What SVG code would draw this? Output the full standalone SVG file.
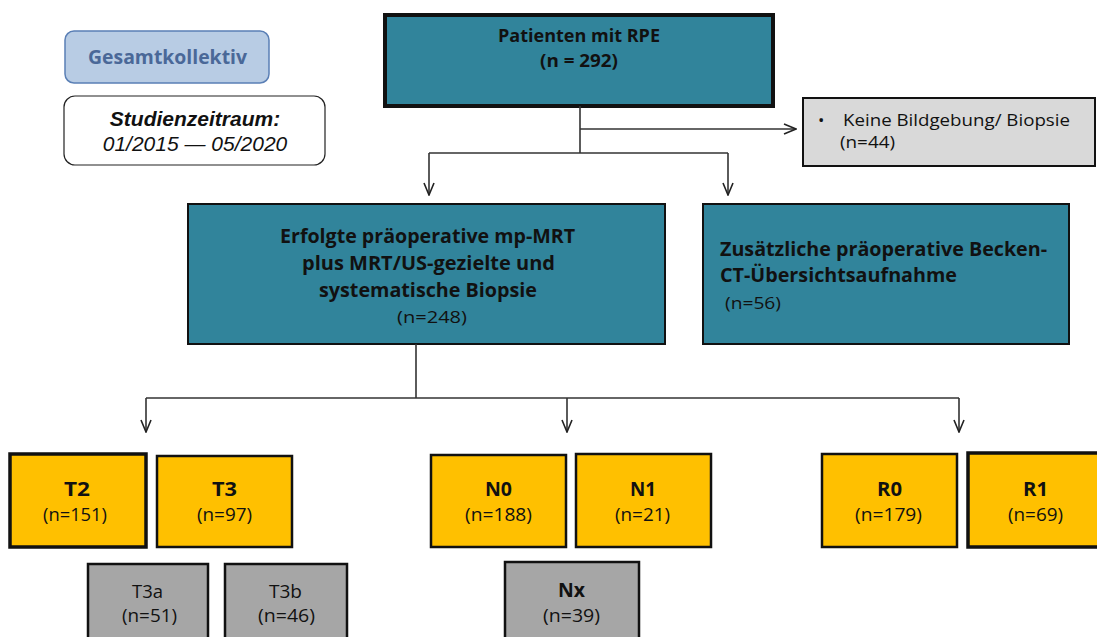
<svg xmlns="http://www.w3.org/2000/svg" width="1097" height="637" viewBox="0 0 1097 637">
<style>
.t{font-family:"Open Sans","Noto Sans",sans-serif;fill:#111;text-anchor:middle}
.l{font-family:"Open Sans","Noto Sans",sans-serif;fill:#111}
.b{font-weight:bold}
.teal{fill:#31849b;stroke:#111;stroke-width:2}
.yel{fill:#ffc000;stroke:#111;stroke-width:2.5}
.gry{fill:#a6a6a6;stroke:#111;stroke-width:2.5}
.conn{fill:none;stroke:#333;stroke-width:1.6}
</style>
<defs>
<marker id="ah" viewBox="0 0 14 12" refX="13" refY="6" markerWidth="14" markerHeight="12" markerUnits="userSpaceOnUse" orient="auto">
<path d="M1,1 L13,6 L1,11" fill="none" stroke="#222" stroke-width="1.6"/>
</marker>
</defs>
<rect width="1097" height="637" fill="#fff"/>
<g id="gesamt">
<rect x="65" y="31" width="204" height="52" rx="9" fill="#b8cce4" stroke="#5a7fb5" stroke-width="1.5"/>
<text x="167.5" y="64" class="t b" font-size="20" textLength="159" lengthAdjust="spacingAndGlyphs" style="fill:#4a6898">Gesamtkollektiv</text>
</g>
<g id="zeitraum">
<rect x="64" y="96" width="261" height="69" rx="11" fill="#fff" stroke="#222" stroke-width="1.2"/>
<text x="195" y="126" font-family="'Liberation Sans',Arial,sans-serif" font-size="21" font-weight="bold" font-style="italic" text-anchor="middle" fill="#111">Studienzeitraum:</text>
<text x="195" y="151" font-family="'Liberation Sans',Arial,sans-serif" font-size="21" font-style="italic" text-anchor="middle" fill="#111">01/2015 — 05/2020</text>
</g>
<g id="patienten">
<rect x="385" y="15" width="388" height="91" fill="#31849b" stroke="#111" stroke-width="4"/>
<text x="579" y="42" class="t b" font-size="18" textLength="162" lengthAdjust="spacingAndGlyphs">Patienten mit RPE</text>
<text x="579" y="67" class="t b" font-size="18" textLength="78" lengthAdjust="spacingAndGlyphs">(n = 292)</text>
</g>
<g id="keine">
<rect x="803" y="98" width="292" height="68" fill="#d9d9d9" stroke="#111" stroke-width="2"/>
<text x="818" y="126" class="l" font-size="17">•</text>
<text x="843" y="126" class="l" font-size="17" textLength="227" lengthAdjust="spacingAndGlyphs">Keine Bildgebung/ Biopsie</text>
<text x="840" y="148" class="l" font-size="17" textLength="55" lengthAdjust="spacingAndGlyphs">(n=44)</text>
</g>
<g id="erfolgte">
<rect x="188" y="204" width="477" height="140" class="teal"/>
<text x="427.5" y="243" class="t b" font-size="19.5" textLength="295" lengthAdjust="spacingAndGlyphs">Erfolgte präoperative mp-MRT</text>
<text x="428.5" y="270" class="t b" font-size="19.5" textLength="253" lengthAdjust="spacingAndGlyphs">plus MRT/US-gezielte und</text>
<text x="428" y="297" class="t b" font-size="19.5" textLength="218" lengthAdjust="spacingAndGlyphs">systematische Biopsie</text>
<text x="432" y="323" class="t" font-size="17" textLength="70" lengthAdjust="spacingAndGlyphs">(n=248)</text>
</g>
<g id="zusaetzlich">
<rect x="703" y="204" width="366" height="140" class="teal"/>
<text x="720" y="256" class="l b" font-size="19.5" textLength="327" lengthAdjust="spacingAndGlyphs">Zusätzliche präoperative Becken-</text>
<text x="720" y="282" class="l b" font-size="19.5" textLength="237" lengthAdjust="spacingAndGlyphs">CT-Übersichtsaufnahme</text>
<text x="725" y="309" class="l" font-size="17" textLength="56" lengthAdjust="spacingAndGlyphs">(n=56)</text>
</g>
<g id="connectors">
<path class="conn" d="M580,106 V153"/>
<path class="conn" d="M580,129 H796" marker-end="url(#ah)"/>
<path class="conn" d="M429,153 H728"/>
<path class="conn" d="M429,153 V195" marker-end="url(#ah)"/>
<path class="conn" d="M728,153 V195" marker-end="url(#ah)"/>
<path class="conn" d="M416,344 V398"/>
<path class="conn" d="M146,398 H959"/>
<path class="conn" d="M146,398 V432" marker-end="url(#ah)"/>
<path class="conn" d="M567,398 V432" marker-end="url(#ah)"/>
<path class="conn" d="M959,398 V432" marker-end="url(#ah)"/>
</g>
<g id="t2"><rect x="10" y="454" width="136" height="93" class="yel" style="stroke-width:3.5"/><text x="77" y="496" class="t b" font-size="19" textLength="26" lengthAdjust="spacingAndGlyphs">T2</text><text x="75" y="521" class="t" font-size="17.5" textLength="64" lengthAdjust="spacingAndGlyphs">(n=151)</text></g>
<g id="t3"><rect x="157" y="456" width="135" height="91" class="yel"/><text x="224.5" y="496" class="t b" font-size="19" textLength="25" lengthAdjust="spacingAndGlyphs">T3</text><text x="224.5" y="521" class="t" font-size="17.5" textLength="55" lengthAdjust="spacingAndGlyphs">(n=97)</text></g>
<g id="t3a"><rect x="88" y="564" width="120" height="80" class="gry"/><text x="147.5" y="598" class="t" font-size="18" textLength="31" lengthAdjust="spacingAndGlyphs">T3a</text><text x="149.5" y="622" class="t" font-size="17.5" textLength="55" lengthAdjust="spacingAndGlyphs">(n=51)</text></g>
<g id="t3b"><rect x="225" y="564" width="122" height="80" class="gry"/><text x="285.5" y="598" class="t" font-size="18" textLength="33" lengthAdjust="spacingAndGlyphs">T3b</text><text x="286.5" y="622" class="t" font-size="17.5" textLength="57" lengthAdjust="spacingAndGlyphs">(n=46)</text></g>
<g id="n0"><rect x="431" y="455" width="135" height="92" class="yel"/><text x="498.5" y="496" class="t b" font-size="19" textLength="27" lengthAdjust="spacingAndGlyphs">N0</text><text x="498.5" y="521" class="t" font-size="17.5" textLength="67" lengthAdjust="spacingAndGlyphs">(n=188)</text></g>
<g id="n1"><rect x="576" y="454" width="135" height="93" class="yel"/><text x="643" y="496" class="t b" font-size="19" textLength="26" lengthAdjust="spacingAndGlyphs">N1</text><text x="642.5" y="521" class="t" font-size="17.5" textLength="55" lengthAdjust="spacingAndGlyphs">(n=21)</text></g>
<g id="nx"><rect x="505" y="562" width="134" height="82" class="gry"/><text x="571.5" y="597" class="t b" font-size="19" textLength="27" lengthAdjust="spacingAndGlyphs">Nx</text><text x="571.5" y="622" class="t" font-size="17.5" textLength="57" lengthAdjust="spacingAndGlyphs">(n=39)</text></g>
<g id="r0"><rect x="822" y="454" width="135" height="93" class="yel"/><text x="889.5" y="496" class="t b" font-size="19" textLength="25" lengthAdjust="spacingAndGlyphs">R0</text><text x="888.5" y="521" class="t" font-size="17.5" textLength="67" lengthAdjust="spacingAndGlyphs">(n=179)</text></g>
<g id="r1"><rect x="968" y="453" width="135" height="94" class="yel" style="stroke-width:3.5"/><text x="1035.5" y="496" class="t b" font-size="19" textLength="25" lengthAdjust="spacingAndGlyphs">R1</text><text x="1035.5" y="521" class="t" font-size="17.5" textLength="55" lengthAdjust="spacingAndGlyphs">(n=69)</text></g>
</svg>
